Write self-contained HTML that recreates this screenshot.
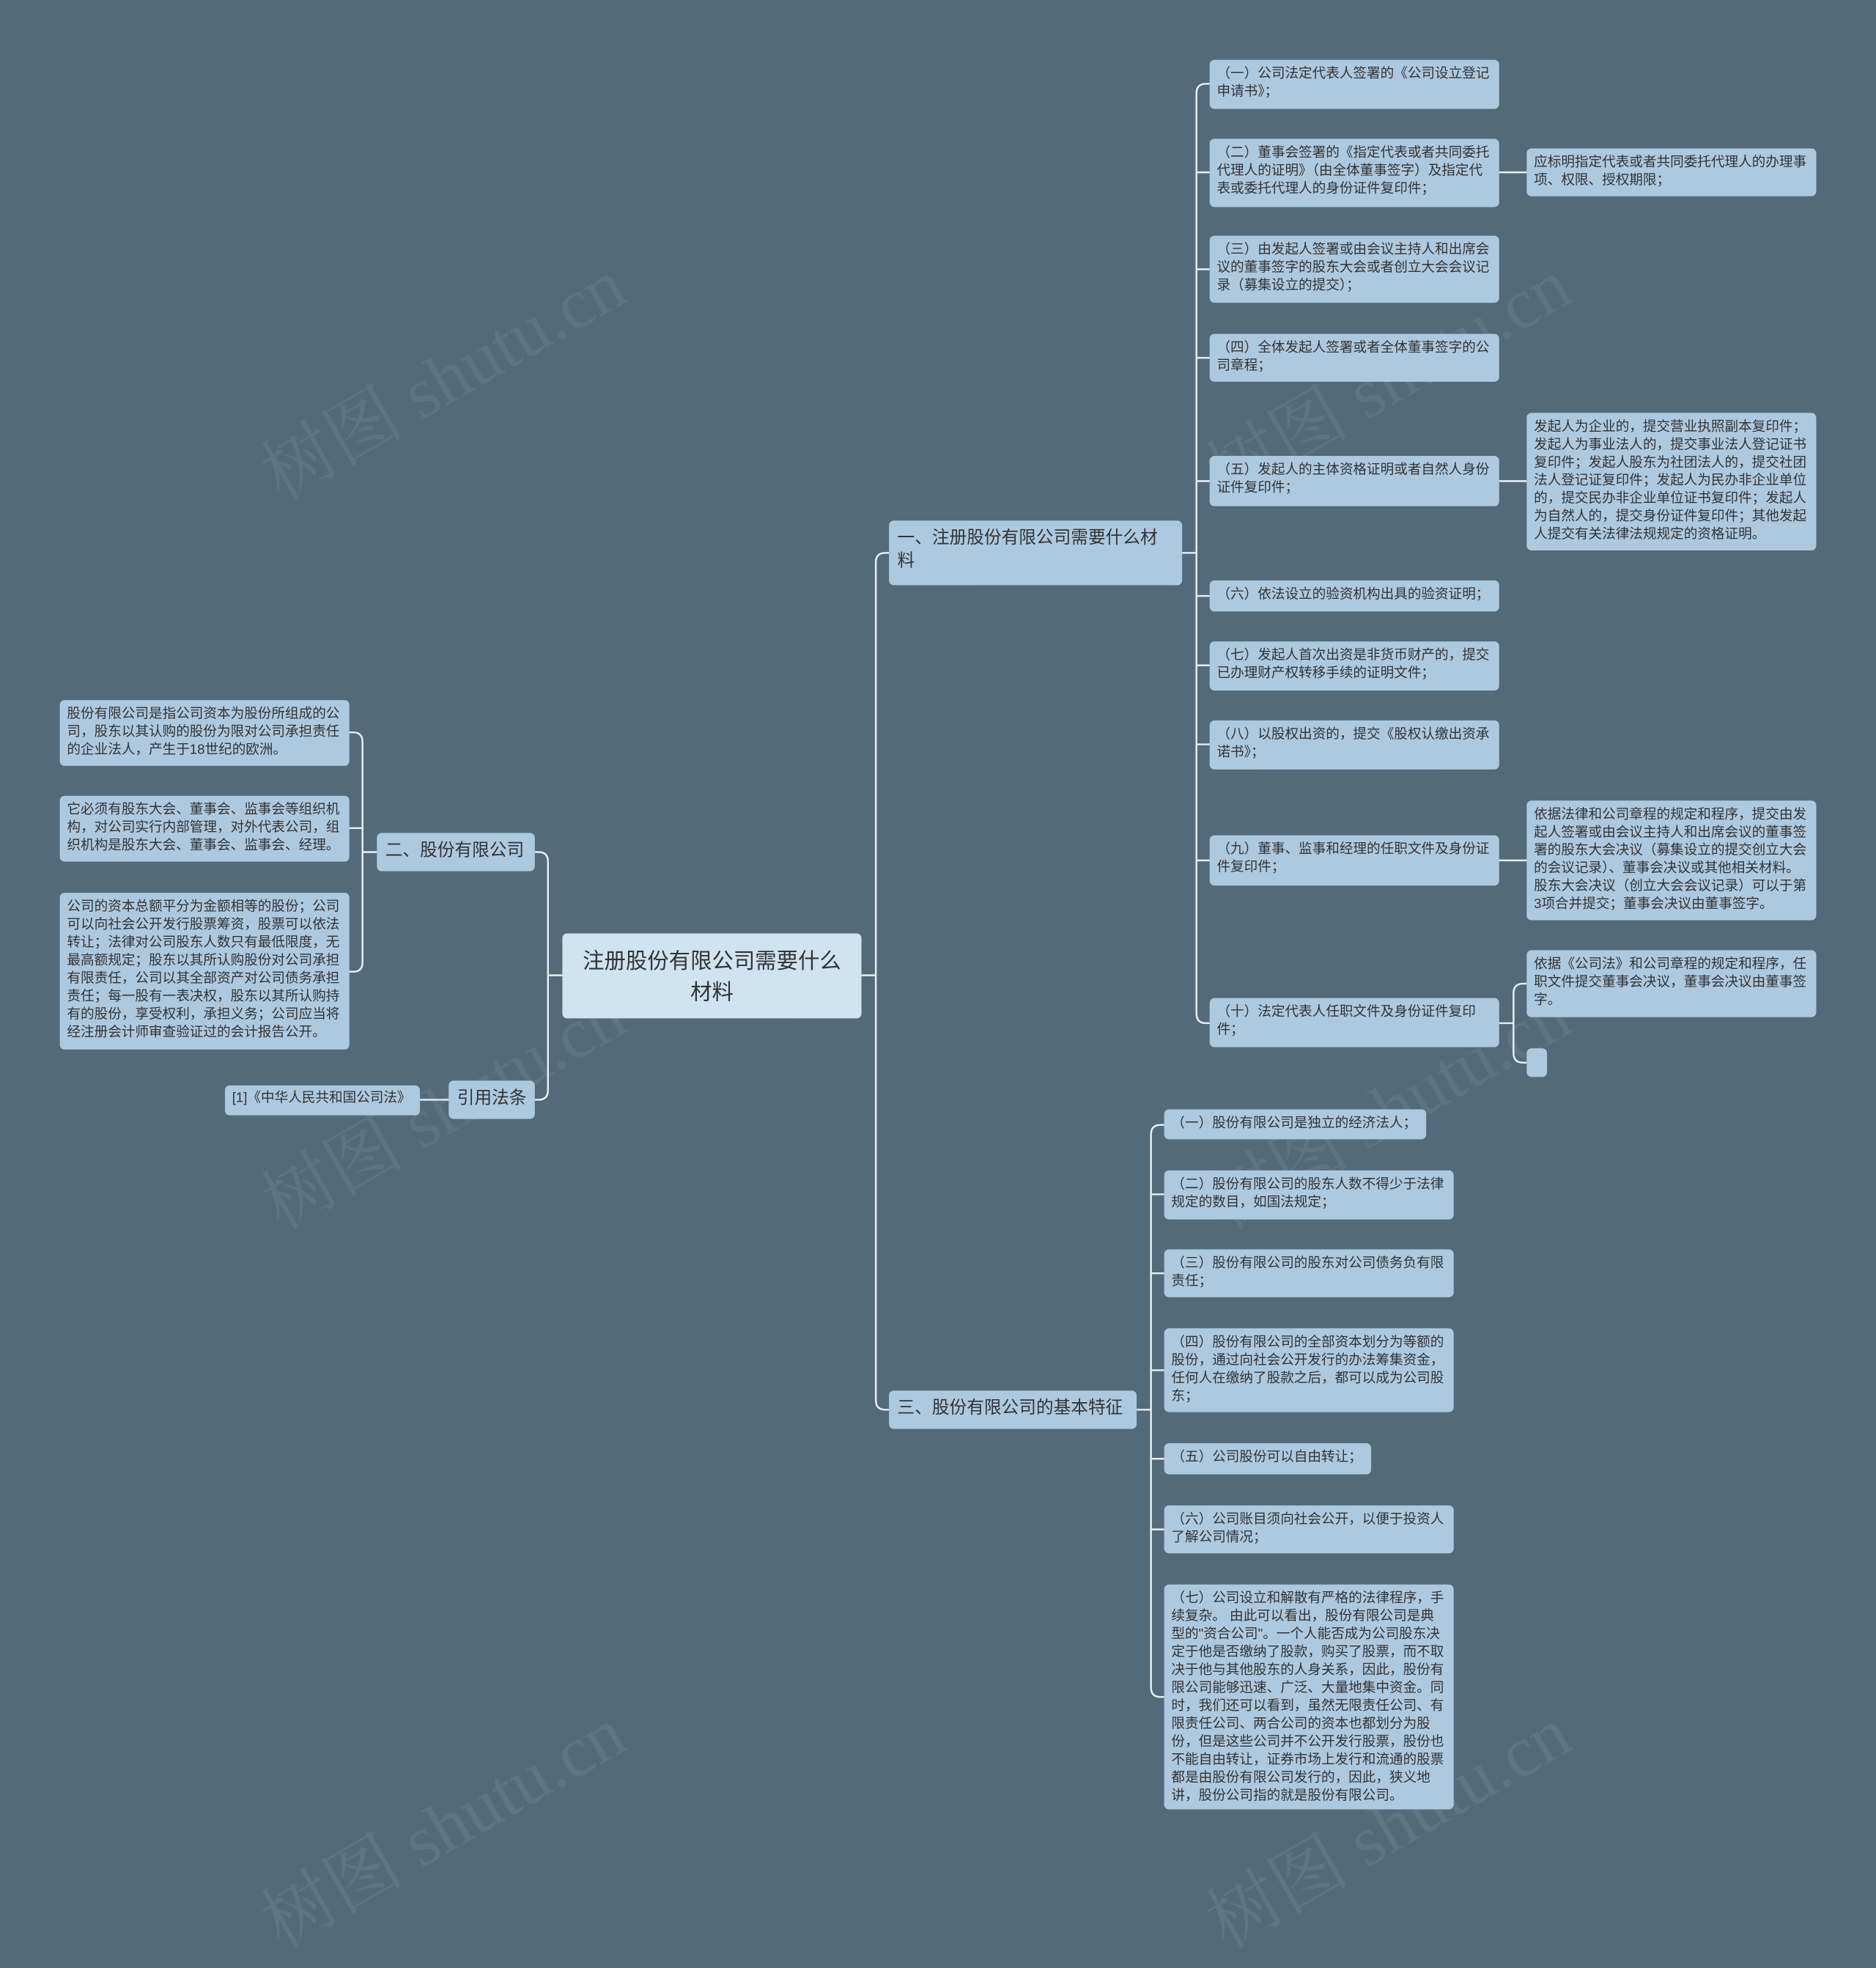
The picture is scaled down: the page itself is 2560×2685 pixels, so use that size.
<!DOCTYPE html>
<html><head><meta charset="utf-8">
<style>
html,body{margin:0;padding:0;background:#526a79;}
body{width:2560px;height:2552px;overflow:hidden;position:relative;}
#w{position:absolute;left:0;top:0;width:1568px;height:1563px;transform:scale(1.6327);transform-origin:0 0;}
.n{position:absolute;box-sizing:border-box;background:#adc9df;border-radius:4px;color:#333;font-family:"Liberation Sans","Noto Sans CJK SC",sans-serif;font-size:11.4px;line-height:15px;padding:5px 6px;overflow:hidden;}
.b{font-size:14.5px;line-height:19px;padding:6px 7px;}
.r{background:#cfe3f0;font-size:18px;line-height:26px;text-align:center;padding:10px 14px;}
svg{position:absolute;left:0;top:0;}
.wm{position:absolute;font-family:"Liberation Serif","Noto Serif CJK SC",serif;font-size:60px;color:rgba(255,255,255,0.07);transform:rotate(-30deg);white-space:nowrap;}
</style></head><body><div id="w">
<div class="wm" style="left:200px;top:270px">树图 shutu.cn</div>
<div class="wm" style="left:990px;top:270px">树图 shutu.cn</div>
<div class="wm" style="left:200px;top:880px">树图 shutu.cn</div>
<div class="wm" style="left:990px;top:880px">树图 shutu.cn</div>
<div class="wm" style="left:200px;top:1480px">树图 shutu.cn</div>
<div class="wm" style="left:990px;top:1480px">树图 shutu.cn</div>
<svg width="1568" height="1563" fill="none" stroke="#e6eff5" stroke-width="1.5">
<path d="M720 815 H732 M732 470 V1170 M732 470 Q732 462 740 462 H743 M732 1170 Q732 1178 740 1178 H743"/>
<path d="M988 462 H1000 M1000 78 V847 M1000 78 Q1000 70 1008 70 H1011 M1000 847 Q1000 855 1008 855 H1011"/>
<path d="M1000 144 H1011 M1000 225 H1011 M1000 299 H1011 M1000 402 H1011 M1000 498 H1011 M1000 556 H1011 M1000 622 H1011 M1000 719 H1011"/>
<path d="M1253 144 H1276 M1253 402 H1276 M1253 719 H1276 M1253 855 H1265 M1265 830 V880 M1265 830 Q1265 822 1273 822 H1276 M1265 880 Q1265 888 1273 888 H1276"/>
<path d="M950 1178 H962 M962 948 V1410 M962 948 Q962 940 970 940 H973 M962 1410 Q962 1418 970 1418 H973"/>
<path d="M962 998 H973 M962 1064 H973 M962 1145 H973 M962 1219 H973 M962 1278 H973"/>
<path d="M470 815 H458 M458 720 V911 M458 720 Q458 712 450 712 H447 M458 911 Q458 919 450 919 H447"/>
<path d="M315 712 H303 M303 620 V804 M303 620 Q303 612 295 612 H292 M303 804 Q303 812 295 812 H292 M303 692 H292"/>
<path d="M375 919 H351"/>
</svg>
<div class="n r" style="left:470px;top:780px;width:250px;height:71px">注册股份有限公司需要什么材料</div>
<div class="n b" style="left:743px;top:435px;width:245px;height:54px">一、注册股份有限公司需要什么材料</div>
<div class="n b" style="left:743px;top:1162px;width:207px;height:32px">三、股份有限公司的基本特征</div>
<div class="n b" style="left:315px;top:696px;width:132px;height:32px">二、股份有限公司</div>
<div class="n b" style="left:375px;top:903px;width:72px;height:32px">引用法条</div>
<div class="n" style="left:50px;top:585px;width:242px;height:55px">股份有限公司是指公司资本为股份所组成的公司，股东以其认购的股份为限对公司承担责任的企业法人，产生于18世纪的欧洲。</div>
<div class="n" style="left:50px;top:665px;width:242px;height:55px">它必须有股东大会、董事会、监事会等组织机构，对公司实行内部管理，对外代表公司，组织机构是股东大会、董事会、监事会、经理。</div>
<div class="n" style="left:50px;top:746px;width:242px;height:131px">公司的资本总额平分为金额相等的股份；公司可以向社会公开发行股票筹资，股票可以依法转让；法律对公司股东人数只有最低限度，无最高额规定；股东以其所认购股份对公司承担有限责任，公司以其全部资产对公司债务承担责任；每一股有一表决权，股东以其所认购持有的股份，享受权利，承担义务；公司应当将经注册会计师审查验证过的会计报告公开。</div>
<div class="n" style="left:188px;top:907px;width:163px;height:25px;padding-top:4px">[1]《中华人民共和国公司法》</div>
<div class="n" style="left:1011px;top:50px;width:242px;height:41px">（一）公司法定代表人签署的《公司设立登记申请书》；</div>
<div class="n" style="left:1011px;top:116px;width:242px;height:57px">（二）董事会签署的《指定代表或者共同委托代理人的证明》（由全体董事签字）及指定代表或委托代理人的身份证件复印件；</div>
<div class="n" style="left:1011px;top:197px;width:242px;height:56px">（三）由发起人签署或由会议主持人和出席会议的董事签字的股东大会或者创立大会会议记录（募集设立的提交）；</div>
<div class="n" style="left:1011px;top:279px;width:242px;height:40px">（四）全体发起人签署或者全体董事签字的公司章程；</div>
<div class="n" style="left:1011px;top:381px;width:242px;height:42px">（五）发起人的主体资格证明或者自然人身份证件复印件；</div>
<div class="n" style="left:1011px;top:485px;width:242px;height:26px;padding-top:5px">（六）依法设立的验资机构出具的验资证明；</div>
<div class="n" style="left:1011px;top:536px;width:242px;height:41px">（七）发起人首次出资是非货币财产的，提交已办理财产权转移手续的证明文件；</div>
<div class="n" style="left:1011px;top:602px;width:242px;height:41px">（八）以股权出资的，提交《股权认缴出资承诺书》；</div>
<div class="n" style="left:1011px;top:698px;width:242px;height:42px">（九）董事、监事和经理的任职文件及身份证件复印件；</div>
<div class="n" style="left:1011px;top:834px;width:242px;height:41px">（十）法定代表人任职文件及身份证件复印件；</div>
<div class="n" style="left:1276px;top:124px;width:242px;height:40px">应标明指定代表或者共同委托代理人的办理事项、权限、授权期限；</div>
<div class="n" style="left:1276px;top:345px;width:242px;height:115px">发起人为企业的，提交营业执照副本复印件；发起人为事业法人的，提交事业法人登记证书复印件；发起人股东为社团法人的，提交社团法人登记证复印件；发起人为民办非企业单位的，提交民办非企业单位证书复印件；发起人为自然人的，提交身份证件复印件；其他发起人提交有关法律法规规定的资格证明。</div>
<div class="n" style="left:1276px;top:669px;width:242px;height:100px">依据法律和公司章程的规定和程序，提交由发起人签署或由会议主持人和出席会议的董事签署的股东大会决议（募集设立的提交创立大会的会议记录）、董事会决议或其他相关材料。股东大会决议（创立大会会议记录）可以于第3项合并提交；董事会决议由董事签字。</div>
<div class="n" style="left:1276px;top:794px;width:242px;height:56px">依据《公司法》和公司章程的规定和程序，任职文件提交董事会决议，董事会决议由董事签字。</div>
<div class="n" style="left:1276px;top:876px;width:17px;height:24px;padding:0"></div>
<div class="n" style="left:973px;top:927px;width:219px;height:25px;padding-top:5px">（一）股份有限公司是独立的经济法人；</div>
<div class="n" style="left:973px;top:978px;width:242px;height:41px">（二）股份有限公司的股东人数不得少于法律规定的数目，如国法规定；</div>
<div class="n" style="left:973px;top:1044px;width:242px;height:40px">（三）股份有限公司的股东对公司债务负有限责任；</div>
<div class="n" style="left:973px;top:1110px;width:242px;height:70px">（四）股份有限公司的全部资本划分为等额的股份，通过向社会公开发行的办法筹集资金，任何人在缴纳了股款之后，都可以成为公司股东；</div>
<div class="n" style="left:973px;top:1206px;width:173px;height:26px;padding-top:5px">（五）公司股份可以自由转让；</div>
<div class="n" style="left:973px;top:1258px;width:242px;height:40px">（六）公司账目须向社会公开，以便于投资人了解公司情况；</div>
<div class="n" style="left:973px;top:1324px;width:242px;height:188px">（七）公司设立和解散有严格的法律程序，手续复杂。 由此可以看出，股份有限公司是典型的"资合公司"。一个人能否成为公司股东决定于他是否缴纳了股款，购买了股票，而不取决于他与其他股东的人身关系，因此，股份有限公司能够迅速、广泛、大量地集中资金。同时，我们还可以看到，虽然无限责任公司、有限责任公司、两合公司的资本也都划分为股份，但是这些公司并不公开发行股票，股份也不能自由转让，证券市场上发行和流通的股票都是由股份有限公司发行的，因此，狭义地讲，股份公司指的就是股份有限公司。</div>
</div></body></html>
